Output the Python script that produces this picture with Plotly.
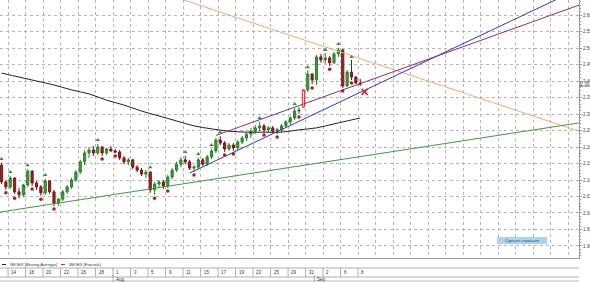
import plotly.graph_objects as go

# ---------------- data ----------------
date_labels = ["14", "18", "20", "22", "26", "28", "1", "3", "5", "9", "11",
               "15", "17", "19", "23", "25", "29", "31", "2", "6", "8"]
month_labels = ["Aug", "Sep"]
month_start_candle = [25.5, 71.5]    # candle boundary where each month begins

opens = [2.145, 2.094, 2.079, 2.106, 2.064, 2.055, 2.085, 2.127, 2.091, 2.079,
         2.061, 2.097, 2.064, 2.030, 2.042, 2.064, 2.079, 2.100, 2.124, 2.155,
         2.182, 2.191, 2.182, 2.200, 2.182, 2.194, 2.188, 2.185, 2.167, 2.155,
         2.161, 2.139, 2.130, 2.118, 2.124, 2.070, 2.088, 2.094, 2.082, 2.109,
         2.130, 2.148, 2.161, 2.155, 2.136, 2.139, 2.161, 2.148, 2.170, 2.188,
         2.221, 2.212, 2.194, 2.206, 2.197, 2.215, 2.227, 2.239, 2.248, 2.258,
         2.264, 2.252, 2.258, 2.248, 2.252, 2.264, 2.276, 2.288, 2.309, 2.321,
         2.373, 2.421, 2.403, 2.473, 2.464, 2.470, 2.455, 2.482, 2.494, 2.385,
         2.427, 2.412, 2.394]
highs = [2.152, 2.100, 2.112, 2.109, 2.076, 2.088, 2.133, 2.130, 2.097, 2.085,
         2.103, 2.100, 2.070, 2.045, 2.070, 2.085, 2.106, 2.130, 2.161, 2.191,
         2.200, 2.203, 2.209, 2.203, 2.197, 2.203, 2.194, 2.191, 2.173, 2.167,
         2.164, 2.145, 2.136, 2.130, 2.127, 2.094, 2.100, 2.100, 2.115, 2.136,
         2.155, 2.170, 2.173, 2.161, 2.145, 2.167, 2.167, 2.176, 2.194, 2.227,
         2.233, 2.218, 2.212, 2.212, 2.221, 2.233, 2.245, 2.258, 2.267, 2.276,
         2.270, 2.264, 2.264, 2.258, 2.270, 2.282, 2.294, 2.318, 2.321, 2.376,
         2.433, 2.424, 2.479, 2.482, 2.485, 2.476, 2.488, 2.500, 2.497, 2.433,
         2.464, 2.415, 2.406]
lows = [2.088, 2.070, 2.073, 2.058, 2.045, 2.048, 2.079, 2.082, 2.070, 2.052,
        2.055, 2.058, 2.021, 2.021, 2.036, 2.058, 2.073, 2.094, 2.118, 2.145,
        2.167, 2.173, 2.176, 2.173, 2.176, 2.185, 2.182, 2.161, 2.148, 2.145,
        2.133, 2.124, 2.112, 2.106, 2.061, 2.055, 2.079, 2.073, 2.076, 2.103,
        2.124, 2.139, 2.148, 2.130, 2.124, 2.133, 2.142, 2.142, 2.164, 2.182,
        2.206, 2.185, 2.188, 2.188, 2.191, 2.209, 2.218, 2.227, 2.239, 2.248,
        2.245, 2.245, 2.242, 2.239, 2.245, 2.258, 2.267, 2.282, 2.300, 2.318,
        2.367, 2.391, 2.388, 2.455, 2.452, 2.445, 2.452, 2.473, 2.379, 2.382,
        2.403, 2.391, 2.385]
closes = [2.094, 2.079, 2.106, 2.064, 2.055, 2.085, 2.127, 2.091, 2.079, 2.061,
          2.097, 2.064, 2.030, 2.042, 2.064, 2.079, 2.100, 2.124, 2.155, 2.182,
          2.191, 2.182, 2.200, 2.182, 2.194, 2.188, 2.185, 2.167, 2.155, 2.161,
          2.139, 2.130, 2.118, 2.124, 2.070, 2.088, 2.094, 2.082, 2.109, 2.130,
          2.148, 2.161, 2.155, 2.136, 2.139, 2.161, 2.148, 2.170, 2.188, 2.221,
          2.212, 2.194, 2.206, 2.197, 2.215, 2.227, 2.239, 2.248, 2.258, 2.264,
          2.252, 2.258, 2.248, 2.252, 2.264, 2.276, 2.288, 2.309, 2.312, 2.373,
          2.421, 2.403, 2.473, 2.464, 2.470, 2.455, 2.482, 2.494, 2.385, 2.427,
          2.412, 2.394, 2.391]
highlight_candle = 69

ma_x = [0, 4, 8, 12, 16, 20, 24, 28, 32, 36, 40, 44, 48, 52, 56, 60, 64, 68,
        72, 76, 80, 82]
ma_y = [2.424, 2.412, 2.400, 2.388, 2.373, 2.361, 2.342, 2.327, 2.309, 2.294,
        2.279, 2.264, 2.255, 2.248, 2.245, 2.245, 2.245, 2.252, 2.258, 2.270,
        2.282, 2.288]

frac_up_x = [0, 2, 6, 10, 22, 34, 42, 45, 48, 50, 59, 67, 70, 74, 77, 80]
frac_up_y = [2.164, 2.124, 2.145, 2.115, 2.221, 2.139, 2.185, 2.179, 2.206,
             2.245, 2.288, 2.330, 2.442, 2.494, 2.512, 2.473]
frac_dn_x = [1, 3, 7, 9, 12, 23, 26, 35, 38, 44, 51, 53, 60, 63, 68, 71, 75, 78, 80]
frac_dn_y = [2.061, 2.045, 2.073, 2.042, 2.012, 2.164, 2.173, 2.045, 2.067,
             2.115, 2.176, 2.179, 2.236, 2.230, 2.291, 2.379, 2.436, 2.370, 2.394]

# trend lines: two anchor points (candle index, price) and start index
trend_lines = [
    dict(p1=(77, 2.490), p2=(132, 2.248), start=-1, color="#f2a878"),   # orange
    dict(p1=(12, 2.028), p2=(132, 2.273), start=-1, color="#3f9a3f"),   # green
    dict(p1=(43, 2.121), p2=(83, 2.372), start=43, color="#3434d0"),    # blue
    dict(p1=(49, 2.235), p2=(132, 2.630), start=49, color="#8e2f6a"),   # purple
]
cross_x, cross_y = [83], [2.367]
last_price = 2.391

y_ticks = [1.90, 1.95, 2.00, 2.05, 2.10, 2.15, 2.20, 2.25, 2.30, 2.35, 2.40,
           2.45, 2.50, 2.55, 2.60]

# ---------------- figure ----------------
X_MIN, X_MAX = -0.343, 132.0
Y_MIN, Y_MAX = 1.8636, 2.6455
W, H = 590, 282
ML, MR, MT, MB = 0, 11, 0, 24
PH = H - MT - MB
PW = W - ML - MR
FONT = "Liberation Sans"
TXT = "#333333"

def py(px_below):
    return -px_below / PH

def px_(x):
    return (x - ML) / PW

fig = go.Figure()

idx = list(range(len(opens)))
main = [i for i in idx if i != highlight_candle]
fig.add_trace(go.Candlestick(
    x=main, open=[opens[i] for i in main], high=[highs[i] for i in main],
    low=[lows[i] for i in main], close=[closes[i] for i in main],
    increasing=dict(line=dict(color="#2c7d2c", width=1), fillcolor="#3da03d"),
    decreasing=dict(line=dict(color="#7a1515", width=1), fillcolor="#a82222"),
    whiskerwidth=0, showlegend=False, hoverinfo="skip"))
h = highlight_candle
fig.add_trace(go.Candlestick(
    x=[h], open=[opens[h]], high=[highs[h]], low=[lows[h]], close=[closes[h]],
    increasing=dict(line=dict(color="#e03030", width=1), fillcolor="rgba(255,255,255,0)"),
    decreasing=dict(line=dict(color="#e03030", width=1), fillcolor="rgba(255,255,255,0)"),
    whiskerwidth=0, showlegend=False, hoverinfo="skip"))

fig.add_trace(go.Scatter(x=ma_x, y=ma_y, mode="lines",
                         line=dict(color="#222222", width=1, shape="spline"),
                         showlegend=False, hoverinfo="skip"))

for tl in trend_lines:
    (x1, y1), (x2, y2) = tl["p1"], tl["p2"]
    slope = (y2 - y1) / (x2 - x1)
    xs = [tl["start"], X_MAX + 1]
    ys = [y1 + slope * (x - x1) for x in xs]
    fig.add_trace(go.Scatter(x=xs, y=ys, mode="lines", line=dict(color=tl["color"], width=1),
                             showlegend=False, hoverinfo="skip"))

fig.add_trace(go.Scatter(x=frac_up_x, y=frac_up_y, mode="markers",
                         marker=dict(symbol="triangle-up", size=4, color="#3a8f3a"),
                         showlegend=False, hoverinfo="skip"))
fig.add_trace(go.Scatter(x=frac_dn_x, y=frac_dn_y, mode="markers",
                         marker=dict(symbol="circle", size=3.5, color="#a52020"),
                         showlegend=False, hoverinfo="skip"))
fig.add_trace(go.Scatter(x=cross_x, y=cross_y, mode="markers",
                         marker=dict(symbol="x-thin", size=6, line=dict(color="#e02020", width=1.5)),
                         showlegend=False, hoverinfo="skip"))

tick_pos = [1.5 + 4 * k for k in range(33)]

shapes = []
annotations = []
gray = "#9a9a9a"
for yy in (py(10), py(19)):
    shapes.append(dict(type="line", xref="paper", yref="paper", x0=0, x1=1, y0=yy, y1=yy,
                       line=dict(color=gray, width=0.8)))
shapes.append(dict(type="rect", xref="paper", yref="paper", x0=0, x1=1, y0=py(22), y1=py(24),
                   fillcolor="#dcdcdc", line=dict(width=0)))
for k, lab in enumerate(date_labels):
    xv = tick_pos[k]
    shapes.append(dict(type="line", xref="x", yref="paper", x0=xv, x1=xv, y0=py(10), y1=py(19),
                       line=dict(color=gray, width=0.8)))
    annotations.append(dict(x=xv, y=py(14.5), xref="x", yref="paper", text=lab, showarrow=False,
                            xanchor="left", yanchor="middle", xshift=1,
                            font=dict(size=4.5, color=TXT, family=FONT)))
for m, lab in enumerate(month_labels):
    xv = month_start_candle[m]
    shapes.append(dict(type="line", xref="x", yref="paper", x0=xv, x1=xv, y0=py(17), y1=py(24),
                       line=dict(color=gray, width=0.8)))
    annotations.append(dict(x=xv, y=py(21.5), xref="x", yref="paper", text=lab, showarrow=False,
                            xanchor="left", yanchor="middle", xshift=1,
                            font=dict(size=4.5, color=TXT, family=FONT)))

legend_items = [("IMOEX [Moving Average]", "#222222", 2), ("IMOEX [Fractals]", "#c03030", 61)]
for text, col, x0 in legend_items:
    shapes.append(dict(type="line", xref="paper", yref="paper", x0=px_(x0), x1=px_(x0 + 4),
                       y0=py(6.5), y1=py(6.5), line=dict(color=col, width=1)))
    annotations.append(dict(x=px_(x0 + 6), y=py(6.5), xref="paper", yref="paper", text=text,
                            showarrow=False, xanchor="left", yanchor="middle",
                            font=dict(size=4.2, color=TXT, family=FONT)))

shapes.append(dict(type="rect", xref="paper", yref="paper", x0=px_(497), x1=px_(547),
                   y0=(PH - 244) / PH, y1=(PH - 237) / PH, fillcolor="#a9d3f3", line=dict(width=0)))
annotations.append(dict(x=px_(522), y=(PH - 240.5) / PH, xref="paper", yref="paper",
                        text="Сделать скриншот", showarrow=False, xanchor="center", yanchor="middle",
                        font=dict(size=4, color="#1f4f80", family=FONT)))

annotations.append(dict(x=1, y=last_price, xref="paper", yref="y", text=f"{last_price:.3f}",
                        showarrow=False, xanchor="left", yanchor="middle", xshift=1,
                        bgcolor="white", bordercolor="#777777", borderwidth=0.6, borderpad=0,
                        font=dict(size=4.5, color=TXT, family=FONT)))

fig.update_layout(
    template="none",
    width=W, height=H,
    margin=dict(l=ML, r=MR, t=MT, b=MB, pad=0),
    paper_bgcolor="white", plot_bgcolor="white",
    showlegend=False,
    shapes=shapes, annotations=annotations,
    xaxis=dict(range=[X_MIN, X_MAX], rangeslider=dict(visible=False), automargin=False,
               tickvals=tick_pos, showticklabels=False, ticks="",
               showgrid=True, gridcolor="#b5b5b5", griddash="dot", gridwidth=1,
               zeroline=False, showline=True, linecolor=gray, linewidth=1, mirror=False),
    yaxis=dict(range=[Y_MIN, Y_MAX], side="right", automargin=False,
               tickvals=y_ticks, tickformat=".3f",
               tickfont=dict(size=4.5, color="#444444", family=FONT),
               ticks="outside", ticklen=2, tickcolor=gray,
               minor=dict(ticks="outside", ticklen=1, dtick=0.01, tickcolor=gray, showgrid=False),
               showgrid=True, gridcolor="#b5b5b5", griddash="dot", gridwidth=1,
               zeroline=False, showline=True, linecolor=gray, linewidth=1),
)

fig.write_html("out.html")
